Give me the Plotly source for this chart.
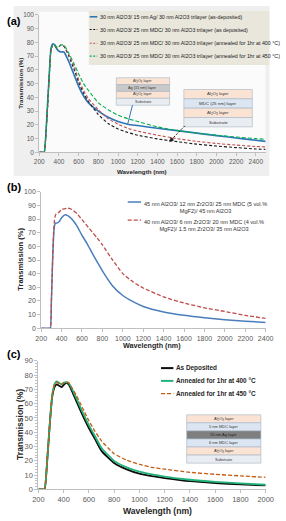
import plotly.graph_objects as go

W, H = 286, 521

# ---------------- Panel (a) data ----------------
wl_a = [200, 240, 250, 280, 300, 320, 340, 360, 380, 400, 420, 450, 500, 550, 600, 650, 700,
        800, 900, 1000, 1100, 1200, 1400, 1600, 1800, 2000, 2200, 2400, 2500]
t_ag_trilayer = [0, 0, 0, 30, 55, 76, 79, 78, 75, 73.5, 73, 73, 66, 57, 48, 41, 36,
                 30, 25.5, 22.5, 20.5, 19.5, 17.5, 15.8, 14, 12.2, 10.5, 8.8, 8]
t_mdc_asdep = [0, 0, 0, 28, 54, 75, 78, 77, 76, 77, 78, 77, 70, 61, 51, 43, 37,
               27.5, 21, 17, 14.5, 12.5, 9.8, 7.8, 6, 4.6, 3.5, 2.5, 2.2]
t_mdc_400 = [0, 0, 0, 28, 54, 75, 78, 77, 76, 77, 78, 77.5, 71, 63, 53, 45, 39,
             31, 24.5, 20.5, 17.5, 15.5, 12.5, 10, 8, 6.5, 5.3, 4.3, 4]
t_mdc_450 = [0, 0, 0, 28, 54, 75, 78, 77.5, 76.5, 77, 78, 78, 72, 65, 57, 50, 45,
             36, 31, 27, 24.5, 22.5, 18.5, 16, 14, 12.5, 11.2, 10, 9.5]
names_a = ["30 nm Al2O3/ 15 nm Ag/ 30 nm Al2O3 trilayer (as-deposited)",
           "30 nm Al2O3/ 25 nm MDC/ 30 nm Al2O3 trilayer (as deposited)",
           "30 nm Al2O3/ 25 nm MDC/ 30 nm Al2O3 trilayer (annealed for 1hr at 400 °C)",
           "30 nm Al2O3/ 25 nm MDC/ 30 nm Al2O3 trilayer (annealed for 1hr at 450 °C)"]

# ---------------- Panel (b) data ----------------
wl_b = [200, 280, 290, 300, 310, 320, 330, 340, 350, 375, 400, 430, 460, 500, 550, 600, 650,
        700, 750, 800, 900, 1000, 1100, 1200, 1400, 1600, 1800, 2000, 2200, 2400]
t_b_blue = [0, 0, 0, 20, 45, 65, 75, 77, 77, 78, 81, 83, 82.5, 80, 75, 68, 62,
            55, 48.5, 42, 31, 24, 19.5, 16, 12, 9.5, 7.7, 6.3, 5.2, 4.3]
t_b_red = [0, 0, 0, 20, 45, 68, 79, 83, 84, 85, 87, 87.5, 88, 87, 84, 79.5, 75,
           70.5, 66, 61, 50, 40, 34, 29.5, 23, 18.5, 15, 12.3, 9.5, 7.2]
names_b = ["45 nm Al2O3/ 12 nm Zr2O3/ 25 nm MDC (5 vol.%<br>MgF2)/ 45 nm Al2O3",
           "40 nm Al2O3/ 6 nm Zr2O3/ 20 nm MDC (4 vol.%<br>MgF2)/ 1.5 nm Zr2O3/ 35 nm Al2O3"]

# ---------------- Panel (c) data ----------------
wl_c = [200, 240, 250, 270, 290, 310, 330, 345, 365, 385, 400, 420, 440, 460, 500, 550, 600,
        650, 700, 800, 900, 1000, 1100, 1200, 1400, 1600, 1800, 2000]
t_c_asdep = [0, 0, 0, 20, 45, 65, 72, 73.5, 72.5, 71.5, 73, 74.5, 73.5, 70, 62, 52, 43,
             35, 27, 18.5, 14, 11, 9.3, 8, 5.8, 4.5, 3.5, 2.8]
t_c_400 = [0, 0, 0, 20, 45, 66, 74, 75.5, 74.5, 73.5, 74.5, 75, 74.5, 71.5, 64, 54, 45,
           37, 29, 20, 15.5, 12.5, 10.5, 9, 6.8, 5.3, 4.2, 3.3]
t_c_450 = [0, 0, 0, 20, 45, 66, 74, 75, 74, 73.5, 74.5, 75, 74.5, 72, 66, 57, 48,
           40.5, 34, 25, 20.5, 17.5, 15.5, 14.2, 12, 10.6, 9.5, 8.5]
names_c = ["As Deposited", "Annealed for 1hr at 400 °C", "Annealed for 1hr at 450 °C"]

FONT = "Liberation Sans Narrow, Arial Narrow, Liberation Sans, Arial, sans-serif"
FONTW = "Liberation Sans, Arial, sans-serif"
TICKC = "#595959"
AXC = "#bfbfbf"


def px(x):
    return x / W


def py(y):
    return 1 - y / H


fig = go.Figure()

# ---- traces ----
sty_a = [dict(color="#2e75b6", width=1.6, dash="solid"),
         dict(color="#1a1a1a", width=1.1, dash="3px,2px"),
         dict(color="#c0504d", width=1.1, dash="3px,2px"),
         dict(color="#00b050", width=1.1, dash="4px,2px")]
for ys, st, nm in zip([t_ag_trilayer, t_mdc_asdep, t_mdc_400, t_mdc_450], sty_a, names_a):
    fig.add_trace(go.Scatter(x=wl_a, y=ys, mode="lines", name=nm, line=dict(shape="spline", smoothing=0.5, **st),
                             xaxis="x", yaxis="y", showlegend=False))

sty_b = [dict(color="#4a7ebb", width=1.5, dash="solid"),
         dict(color="#be4b48", width=1.3, dash="4px,2px")]
for ys, st, nm in zip([t_b_blue, t_b_red], sty_b, names_b):
    fig.add_trace(go.Scatter(x=wl_b, y=ys, mode="lines", name=nm, line=dict(shape="spline", smoothing=0.5, **st),
                             xaxis="x2", yaxis="y2", showlegend=False))

sty_c = [dict(color="#0d0d0d", width=1.8, dash="solid"),
         dict(color="#21b37a", width=1.8, dash="solid"),
         dict(color="#c55a11", width=1.3, dash="4px,2px")]
for ys, st, nm in zip([t_c_asdep, t_c_400, t_c_450], sty_c, names_c):
    fig.add_trace(go.Scatter(x=wl_c, y=ys, mode="lines", name=nm, line=dict(shape="spline", smoothing=0.5, **st),
                             xaxis="x3", yaxis="y3", showlegend=False))

shapes = []
ann = []


def text(x, y, t, size, color="#000", bold=False, xa="left", ya="middle", angle=0, family=FONT):
    if bold:
        t = "<b>" + t + "</b>"
    ann.append(dict(xref="paper", yref="paper", x=px(x), y=py(y), text=t, showarrow=False,
                    xanchor=xa, yanchor=ya, textangle=angle,
                    font=dict(size=size, color=color, family=family)))


def rect(x0, y0, x1, y1, fill, line="rgba(0,0,0,0)", lw=0, layer="above"):
    shapes.append(dict(type="rect", xref="paper", yref="paper", x0=px(x0), x1=px(x1), y0=py(y1), y1=py(y0),
                       fillcolor=fill, line=dict(color=line, width=lw), layer=layer))


def seg(x0, y0, x1, y1, color, width, dash="solid"):
    shapes.append(dict(type="line", xref="paper", yref="paper", x0=px(x0), x1=px(x1), y0=py(y0), y1=py(y1),
                       line=dict(color=color, width=width, dash=dash)))


def tri(pts, color):
    p = "M " + " L ".join(f"{px(a):.5f} {py(b):.5f}" for a, b in pts) + " Z"
    shapes.append(dict(type="path", xref="paper", yref="paper", path=p, fillcolor=color,
                       line=dict(color=color, width=0.5)))


# ---- panel (a) background ----
rect(8, 2, 277, 175, "#efefef", layer="below")
rect(35, 8, 273, 151, "#fbfbfb", layer="below")

# legend (a)
rect(87, 7, 277, 62, "#e9e7dc")
leg_y = [13, 26, 40, 53]
for yy, st, nm in zip(leg_y, sty_a, names_a):
    seg(88, yy, 96, yy, st["color"], st["width"], "solid" if st["dash"] == "solid" else "2px,1.5px")
    text(96.5, yy, nm, 5.3, "#1a1a1a")

PEACH = "#fbe3d3"
GRAY = "#c9c9c9"
SUB = "#e9edf2"
BLUEL = "#dce6f2"
DARK = "#7f7f7f"


def stack(x0, y0, x1, rows, h, size):
    for i, (lab, col, tc) in enumerate(rows):
        rect(x0, y0 + i * h, x1, y0 + (i + 1) * h, col, line="#a6b3c3", lw=0.6)
        text((x0 + x1) / 2, y0 + (i + 0.5) * h, lab, size, tc, xa="center")


stack(116, 75, 172, [("Al<sub>2</sub>O<sub>3</sub> layer", PEACH, "#333"),
                     ("Ag (15 nm) layer", GRAY, "#333"),
                     ("Al<sub>2</sub>O<sub>3</sub> layer", PEACH, "#333"),
                     ("Substrate", SUB, "#333")], 7, 3.8)
stack(187, 87, 259, [("Al<sub>2</sub>O<sub>3</sub> layer", PEACH, "#333"),
                     ("MDC (25 nm) layer", BLUEL, "#333"),
                     ("Al<sub>2</sub>O<sub>3</sub> layer", PEACH, "#333"),
                     ("Substrate", SUB, "#333")], 9.5, 4.4)

# arrows (a)
seg(133, 103, 128, 122, "#2e75b6", 1)
seg(188, 124, 174, 138, "#1a1a1a", 1, "2px,1.5px")
tri([(172, 140), (176.4, 138.6), (173.4, 135.6)], "#1a1a1a")

# legend (b)
leg_yb = [201.5, 220]
for yy, st, nm in zip(leg_yb, sty_b, names_b):
    seg(128, yy, 142, yy, st["color"], st["width"], st["dash"])
    text(142.5, yy - 3.5, nm, 5.6, "#333", ya="top")

# legend (c)
leg_yc = [370.5, 383.5, 396.5]
for yy, st, nm in zip(leg_yc, sty_c, names_c):
    seg(163, yy, 176, yy, st["color"], 2 if st["dash"] == "solid" else 1.3, st["dash"])
    text(176.5, yy, nm, 6.4, "#262626", bold=True, family=FONTW)

stack(190, 418, 268, [("Al<sub>2</sub>O<sub>3</sub> layer", PEACH, "#333"),
                      ("5 nm MDC layer", BLUEL, "#333"),
                      ("15 nm Ag layer", DARK, "#222"),
                      ("6 nm MDC layer", BLUEL, "#333"),
                      ("Al<sub>2</sub>O<sub>3</sub> layer", PEACH, "#333"),
                      ("Substrate", SUB, "#333")], 8.2, 4)

# panel labels & axis titles
text(8, 17, "(a)", 11, "#000", bold=True, xa="center", family=FONTW)
text(8, 186, "(b)", 11, "#000", bold=True, xa="center", family=FONTW)
text(8, 356, "(c)", 11, "#000", bold=True, xa="center", family=FONTW)

text(143, 170, "Wavelength (nm)", 6.2, "#262626", bold=True, xa="center", family=FONTW)
text(154, 347, "Wavelength (nm)", 7.2, "#262626", bold=True, xa="center", family=FONTW)
text(159, 516, "Wavelength (nm)", 8.6, "#262626", bold=True, xa="center", family=FONTW)
text(15, 81, "Transmission (%)", 6.2, "#262626", bold=True, xa="center", angle=-90, family=FONTW)
text(15, 260, "Transmission (%)", 7.6, "#262626", bold=True, xa="center", angle=-90, family=FONTW)
text(14, 428, "Transmission (%)", 8.6, "#262626", bold=True, xa="center", angle=-90, family=FONTW)


def xax(dom, rng, anchor, size):
    return dict(domain=dom, range=rng, anchor=anchor, tickmode="linear", tick0=200, dtick=200,
                showgrid=False, zeroline=False, showline=True, linecolor=AXC, linewidth=1,
                ticks="outside", ticklen=3, tickcolor=AXC, tickfont=dict(size=size, color=TICKC, family=FONT))


def yax(dom, rng, anchor, size, minor=False):
    d = dict(domain=dom, range=rng, anchor=anchor, tickmode="linear", tick0=0, dtick=10,
             showgrid=False, zeroline=False, showline=True, linecolor=AXC, linewidth=1,
             ticks="outside", ticklen=3, tickcolor=AXC, tickfont=dict(size=size, color=TICKC, family=FONT))
    if minor:
        d["minor"] = dict(dtick=2, ticks="outside", ticklen=2, tickcolor=AXC)
    return d


fig.update_layout(
    width=W, height=H, margin=dict(l=0, r=0, t=0, b=0),
    paper_bgcolor="white", plot_bgcolor="rgba(0,0,0,0)",
    xaxis=xax([px(35), px(273)], [200, 2500], "y", 6.5),
    yaxis=yax([py(151), py(11)], [0, 100], "x", 6.5),
    xaxis2=xax([px(37), px(273)], [200, 2400], "y2", 7),
    yaxis2=yax([py(330), py(191)], [0, 100], "x2", 7),
    xaxis3=xax([px(34), px(273)], [200, 2000], "y3", 7.4),
    yaxis3=yax([py(494), py(363)], [0, 90], "x3", 7.4, minor=True),
    shapes=shapes, annotations=ann, showlegend=False,
)

fig.write_html("out.html")
